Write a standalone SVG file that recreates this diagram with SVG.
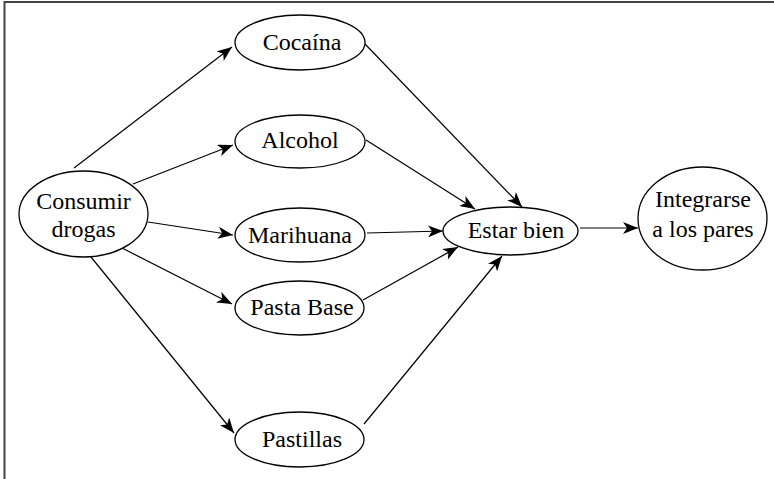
<svg xmlns="http://www.w3.org/2000/svg" width="774" height="479" viewBox="0 0 774 479">
<defs>
<marker id="arr" markerUnits="userSpaceOnUse" markerWidth="16" markerHeight="12" refX="15" refY="6" orient="auto">
<path d="M0,0 L15,6 L0,12 L4,6 z" fill="#000"/>
</marker>
<style>
.n ellipse{fill:#fff;stroke:#000;stroke-width:1.3}
.n text{font-family:"Liberation Serif","Times New Roman",serif;font-size:24px;fill:#000;text-anchor:middle}
#edges line{stroke:#000;stroke-width:1.2;marker-end:url(#arr)}
.frame{stroke:#444;stroke-width:2;fill:none}
</style>
</defs>
<rect width="774" height="479" fill="#fff"/>
<path class="frame" d="M4.5,479 V2 H774"/>
<g id="edges">
<line x1="74" y1="168" x2="232" y2="47"/>
<line x1="133" y1="184" x2="233" y2="145"/>
<line x1="148" y1="222" x2="233" y2="235"/>
<line x1="122" y1="248" x2="232" y2="304"/>
<line x1="91" y1="257" x2="234" y2="433"/>
<line x1="365" y1="44" x2="522" y2="207"/>
<line x1="366" y1="140" x2="475" y2="209"/>
<line x1="367" y1="233" x2="443" y2="231"/>
<line x1="363" y1="300" x2="458" y2="247"/>
<line x1="364" y1="424" x2="502" y2="256"/>
<line x1="580" y1="228" x2="638" y2="228"/>
</g>
<g id="consumir" class="n"><ellipse cx="83.5" cy="214" rx="64.5" ry="43"/><text x="83.5" y="209">Consumir</text><text x="83.5" y="237">drogas</text></g>
<g id="cocaina" class="n"><ellipse cx="300" cy="42.5" rx="65" ry="27.5"/><text x="302" y="50">Cocaína</text></g>
<g id="alcohol" class="n"><ellipse cx="300" cy="141.5" rx="65" ry="26.5"/><text x="300" y="148">Alcohol</text></g>
<g id="marihuana" class="n"><ellipse cx="300" cy="235" rx="65" ry="27"/><text x="300" y="243">Marihuana</text></g>
<g id="pastabase" class="n"><ellipse cx="299.5" cy="308" rx="64.5" ry="27"/><text x="302" y="315">Pasta Base</text></g>
<g id="pastillas" class="n"><ellipse cx="299.5" cy="439.5" rx="64.5" ry="27.5"/><text x="302" y="447">Pastillas</text></g>
<g id="estarbien" class="n"><ellipse cx="510.5" cy="231" rx="67.5" ry="24"/><text x="516" y="238">Estar bien</text></g>
<g id="integrarse" class="n"><ellipse cx="702.5" cy="218.5" rx="64.5" ry="51.5"/><text x="703" y="207">Integrarse</text><text x="703" y="237">a los pares</text></g>
</svg>
